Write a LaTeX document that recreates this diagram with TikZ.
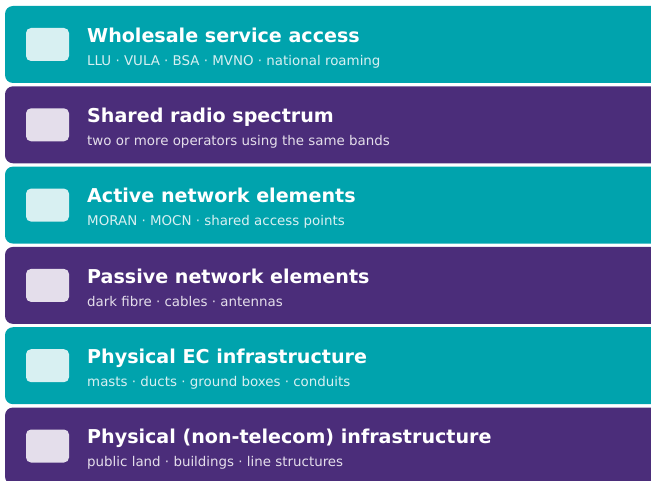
\documentclass[tikz,border=0pt]{standalone}
\usepackage{fontspec}
\setmainfont{DejaVu Sans}
\definecolor{bandteal}{RGB}{0,163,173}
\definecolor{bandpurple}{RGB}{75,45,122}
\definecolor{iconteal}{RGB}{216,240,242}
\definecolor{iconpurple}{RGB}{228,222,235}

\tikzset{
    tealband/.style={fill=bandteal,rounded corners=8pt},
    purpleband/.style={fill=bandpurple,rounded corners=8pt},
    tealicon/.style={fill=iconteal,rounded corners=5pt},
    purpleicon/.style={fill=iconpurple,rounded corners=5pt},
    heading/.style={anchor=base west,inner sep=0pt,text=white,font=\bfseries\fontsize{19.1}{22}\selectfont},
    tealsub/.style={anchor=base west,inner sep=0pt,text=iconteal,font=\fontsize{13.4}{16}\selectfont},
    purplesub/.style={anchor=base west,inner sep=0pt,text=iconpurple,font=\fontsize{13.4}{16}\selectfont}
}

\begin{document}
\begin{tikzpicture}[x=1pt,y=-1pt]
    \useasboundingbox (0,0) rectangle (651,481);
    \clip (0,0) rectangle (651,481);

    % wholesale
    \fill[tealband] (5,6) rectangle (670,83);
    \fill[tealicon] (26,28) rectangle (69,61);
    \node[heading] (wholesale) at (87,42.3) {Wholesale service access};
    \node[tealsub] (wholesalesub) at (87,65.3) {LLU · VULA · BSA · MVNO · national roaming};

    % spectrum
    \fill[purpleband] (5,86.3) rectangle (670,163.3);
    \fill[purpleicon] (26,108.3) rectangle (69,141.3);
    \node[heading] (spectrum) at (87,122.6) {Shared radio spectrum};
    \node[purplesub] (spectrumsub) at (87,145.6) {two or more operators using the same bands};

    % active
    \fill[tealband] (5,166.6) rectangle (670,243.6);
    \fill[tealicon] (26,188.6) rectangle (69,221.6);
    \node[heading] (active) at (87,202.9) {Active network elements};
    \node[tealsub] (activesub) at (87,225.9) {MORAN · MOCN · shared access points};

    % passive
    \fill[purpleband] (5,246.9) rectangle (670,323.9);
    \fill[purpleicon] (26,268.9) rectangle (69,301.9);
    \node[heading] (passive) at (87,283.2) {Passive network elements};
    \node[purplesub] (passivesub) at (87,306.2) {dark fibre · cables · antennas};

    % physical EC
    \fill[tealband] (5,327.2) rectangle (670,404.2);
    \fill[tealicon] (26,349.2) rectangle (69,382.2);
    \node[heading] (physical) at (87,363.5) {Physical EC infrastructure};
    \node[tealsub] (physicalsub) at (87,386.5) {masts · ducts · ground boxes · conduits};

    % non-telecom
    \fill[purpleband] (5,407.5) rectangle (670,484.5);
    \fill[purpleicon] (26,429.5) rectangle (69,462.5);
    \node[heading] (nontelecom) at (87,443.8) {Physical (non-telecom) infrastructure};
    \node[purplesub] (nontelecomsub) at (87,466.8) {public land · buildings · line structures};
\end{tikzpicture}
\end{document}
